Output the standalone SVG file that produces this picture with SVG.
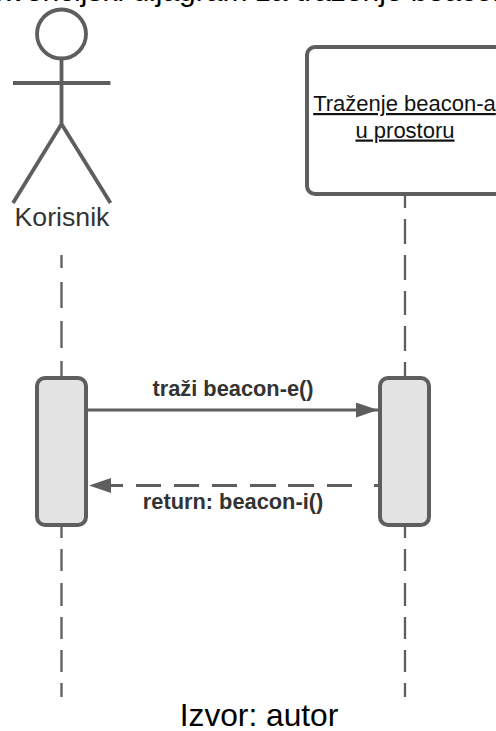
<svg xmlns="http://www.w3.org/2000/svg" width="496" height="731" viewBox="0 0 496 731">
<style>
text{font-family:"Liberation Sans",Arial,sans-serif}
.cap{font-size:31.7px;fill:#000}
.msg{font-size:21.8px;font-weight:bold;fill:#333;text-anchor:middle}
.box{fill:#e3e3e3;stroke:#5e5e5e;stroke-width:4}
.life{stroke:#5e5e5e;stroke-width:2.3;fill:none}
.conn{stroke:#5e5e5e;stroke-width:3;fill:none}
.u{font-size:22px;fill:#111;text-anchor:middle;text-decoration:underline}
</style>
<defs>
<marker id="arrow" markerUnits="userSpaceOnUse" markerWidth="23" markerHeight="16" refX="22" refY="7.5" orient="auto"><path d="M0 0L22 7.500L0 15Z" fill="#5e5e5e"/></marker>
</defs>
<rect width="496" height="731" fill="#fff"/>
<text id="title" x="-41" y="1" font-size="30" fill="#000">Sekvencijski dijagram za traženje beacon-a</text>
<g id="connectors">
<path class="life" d="M61.500 255V268M61.500 282V308M61.500 321V348M61.500 361V378"/>
<path class="life" d="M61.500 527V538M61.500 549V571M61.500 583V606M61.500 617V639M61.500 650V672M61.500 683V697"/>
<path class="life" d="M405 195V208M405 219V244M405 255V280M405 291V315M405 326V351M405 362V378"/>
<path class="life" d="M405 527V538M405 549V571M405 583V606M405 617V639M405 650V672M405 683V697"/>
<path class="conn" d="M88 410H378" marker-end="url(#arrow)"/>
<path class="conn" d="M379 485.500H374M352 485.500H327M314 485.500H288M276 485.500H250M237 485.500H212M199 485.500H174M161 485.500H136M123 485.500H100"/>
<path d="M89 485.500L111 478V493Z" fill="#5e5e5e"/>
<text class="msg" x="233" y="396">traži beacon-e()</text>
<text class="msg" x="233" y="509">return: beacon-i()</text>
</g>
<g id="korisnik" fill="none" stroke="#5e5e5e" stroke-width="3.800">
<circle cx="61.500" cy="34" r="24.500"/>
<path d="M61.500 59V124M13 83H110.500M61.500 124L13 203M61.500 124L110.500 203"/>
<text x="62" y="226" text-anchor="middle" font-size="26.700" fill="#333" stroke="none">Korisnik</text>
</g>
<g id="activation-left"><rect class="box" x="37" y="378" width="49" height="147" rx="8"/></g>
<g id="activation-right"><rect class="box" x="380" y="378" width="49" height="147" rx="8"/></g>
<g id="object">
<rect x="307" y="47" width="200" height="147" rx="8" fill="#fff" stroke="#5e5e5e" stroke-width="4"/>
<text class="u" x="404.500" y="111">Traženje beacon-a</text>
<text class="u" x="405" y="137.500">u prostoru</text>
</g>
<text id="source" class="cap" x="259" y="726" text-anchor="middle">Izvor: autor</text>
</svg>
